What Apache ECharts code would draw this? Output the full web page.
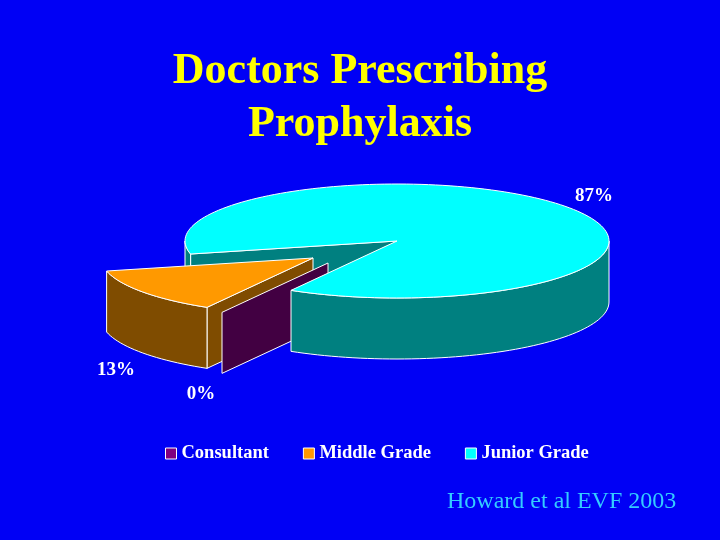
<!DOCTYPE html>
<html><head><meta charset="utf-8">
<style>html,body{margin:0;padding:0;background:#0000F5}#c{width:720px;height:540px}</style>
<script src="https://cdn.jsdelivr.net/npm/echarts@6/dist/echarts.min.js"></script>
</head><body><div id="c"></div>
<script>
const categories = ['Consultant', 'Middle Grade', 'Junior Grade'];
const percentValues = [0, 13, 87];
const topColors = ['#800080', '#FF9900', '#00FFFF'];
const sideColors = ['#420042', '#7F4C00', '#008080'];

const startAngle = 120, cx = 397, cy = 241, rx = 212, ry = 57, depth = 61;
const offsets = [[-69, 22], [-84, 17], [0, 0]];
const labelAt = [[201, 394], [116, 370], [594, 196]];
const layers = [
  {radial: 4, back: 4, front: 4, top: 4},
  {radial: 2, back: 3, front: 3, top: 3},
  {radial: 1, back: 1, front: 5, top: 6}
];
const total = percentValues.reduce((a, b) => a + b, 0);

function sliceRange(i) {
  let s = startAngle;
  for (let k = 0; k < i; k++) s += percentValues[k] / total * 360;
  return [s, s + percentValues[i] / total * 360];
}
function pt(i, deg, drop) {
  const r = deg * Math.PI / 180;
  return [cx + offsets[i][0] + rx * Math.cos(r), cy + offsets[i][1] + ry * Math.sin(r) + (drop || 0)];
}
function arc(i, a, b, drop) {
  const out = [], n = Math.max(1, Math.ceil(Math.abs(b - a) / 2));
  for (let k = 0; k <= n; k++) out.push(pt(i, a + (b - a) * k / n, drop));
  return out;
}
function poly(points, fill, z2) {
  return {type: 'polygon', z2, shape: {points}, style: {fill, stroke: '#FFFFFF', lineWidth: 1}};
}
function radial(i, a, z2) {
  const o = [cx + offsets[i][0], cy + offsets[i][1]], p = pt(i, a);
  return poly([o, p, [p[0], p[1] + depth], [o[0], o[1] + depth]], sideColors[i], z2);
}
function renderSlice(i) {
  const [s, e] = sliceRange(i), kids = [], L = layers[i];
  const rad = d => d * Math.PI / 180;
  if (Math.cos(rad(s)) < 0) kids.push(radial(i, s, L.radial));
  if (Math.cos(rad(e)) > 0) kids.push(radial(i, e, L.radial));
  [[0, 180], [360, 540]].forEach(([lo, hi]) => {
    const a = Math.max(s, lo), b = Math.min(e, hi);
    if (b > a) {
      const wall = arc(i, a, b, 0).concat(arc(i, b, a, depth));
      kids.push(poly(wall, sideColors[i], lo === 0 && e > 360 ? L.back : L.front));
    }
  });
  if (e > s) {
    const o = [cx + offsets[i][0], cy + offsets[i][1]];
    kids.push(poly([o].concat(arc(i, s, e, 0)), topColors[i], L.top));
  }
  kids.push({type: 'text', z2: 10, style: {
    text: percentValues[i] + '%', x: labelAt[i][0], y: labelAt[i][1],
    fill: '#FFFFFF', align: 'center', verticalAlign: 'middle',
    font: 'bold 19px "Liberation Serif"'
  }});
  return {type: 'group', children: kids};
}

const chart = echarts.init(document.getElementById('c'), null, {renderer: 'canvas'});
chart.setOption({
  backgroundColor: '#0000F5',
  animation: false,
  title: [
    {text: 'Doctors Prescribing\nProphylaxis', left: 355, top: 40, textAlign: 'center',
     textStyle: {color: '#FFFF00', fontFamily: 'Liberation Serif', fontWeight: 'bold', fontSize: 44, lineHeight: 53}},
    {text: 'Howard et al EVF 2003', left: 442, top: 485,
     textStyle: {color: '#33CCFF', fontFamily: 'Liberation Serif', fontWeight: 'normal', fontSize: 24}}
  ],
  legend: {
    data: categories, left: 165, top: 444, icon: 'rect', itemWidth: 11, itemHeight: 11,
    itemGap: 34, selectedMode: false, padding: 0,
    itemStyle: {borderColor: '#FFFFFF', borderWidth: 1},
    textStyle: {color: '#FFFFFF', fontFamily: 'Liberation Serif', fontWeight: 'bold', fontSize: 18.5, padding: [0, 0, 0, 0]}
  },
  series: categories.map((name, i) => ({
    type: 'custom', name, coordinateSystem: 'none', silent: true,
    itemStyle: {color: topColors[i]},
    data: [[percentValues[i]]],
    renderItem: () => renderSlice(i)
  }))
});
</script></body></html>
